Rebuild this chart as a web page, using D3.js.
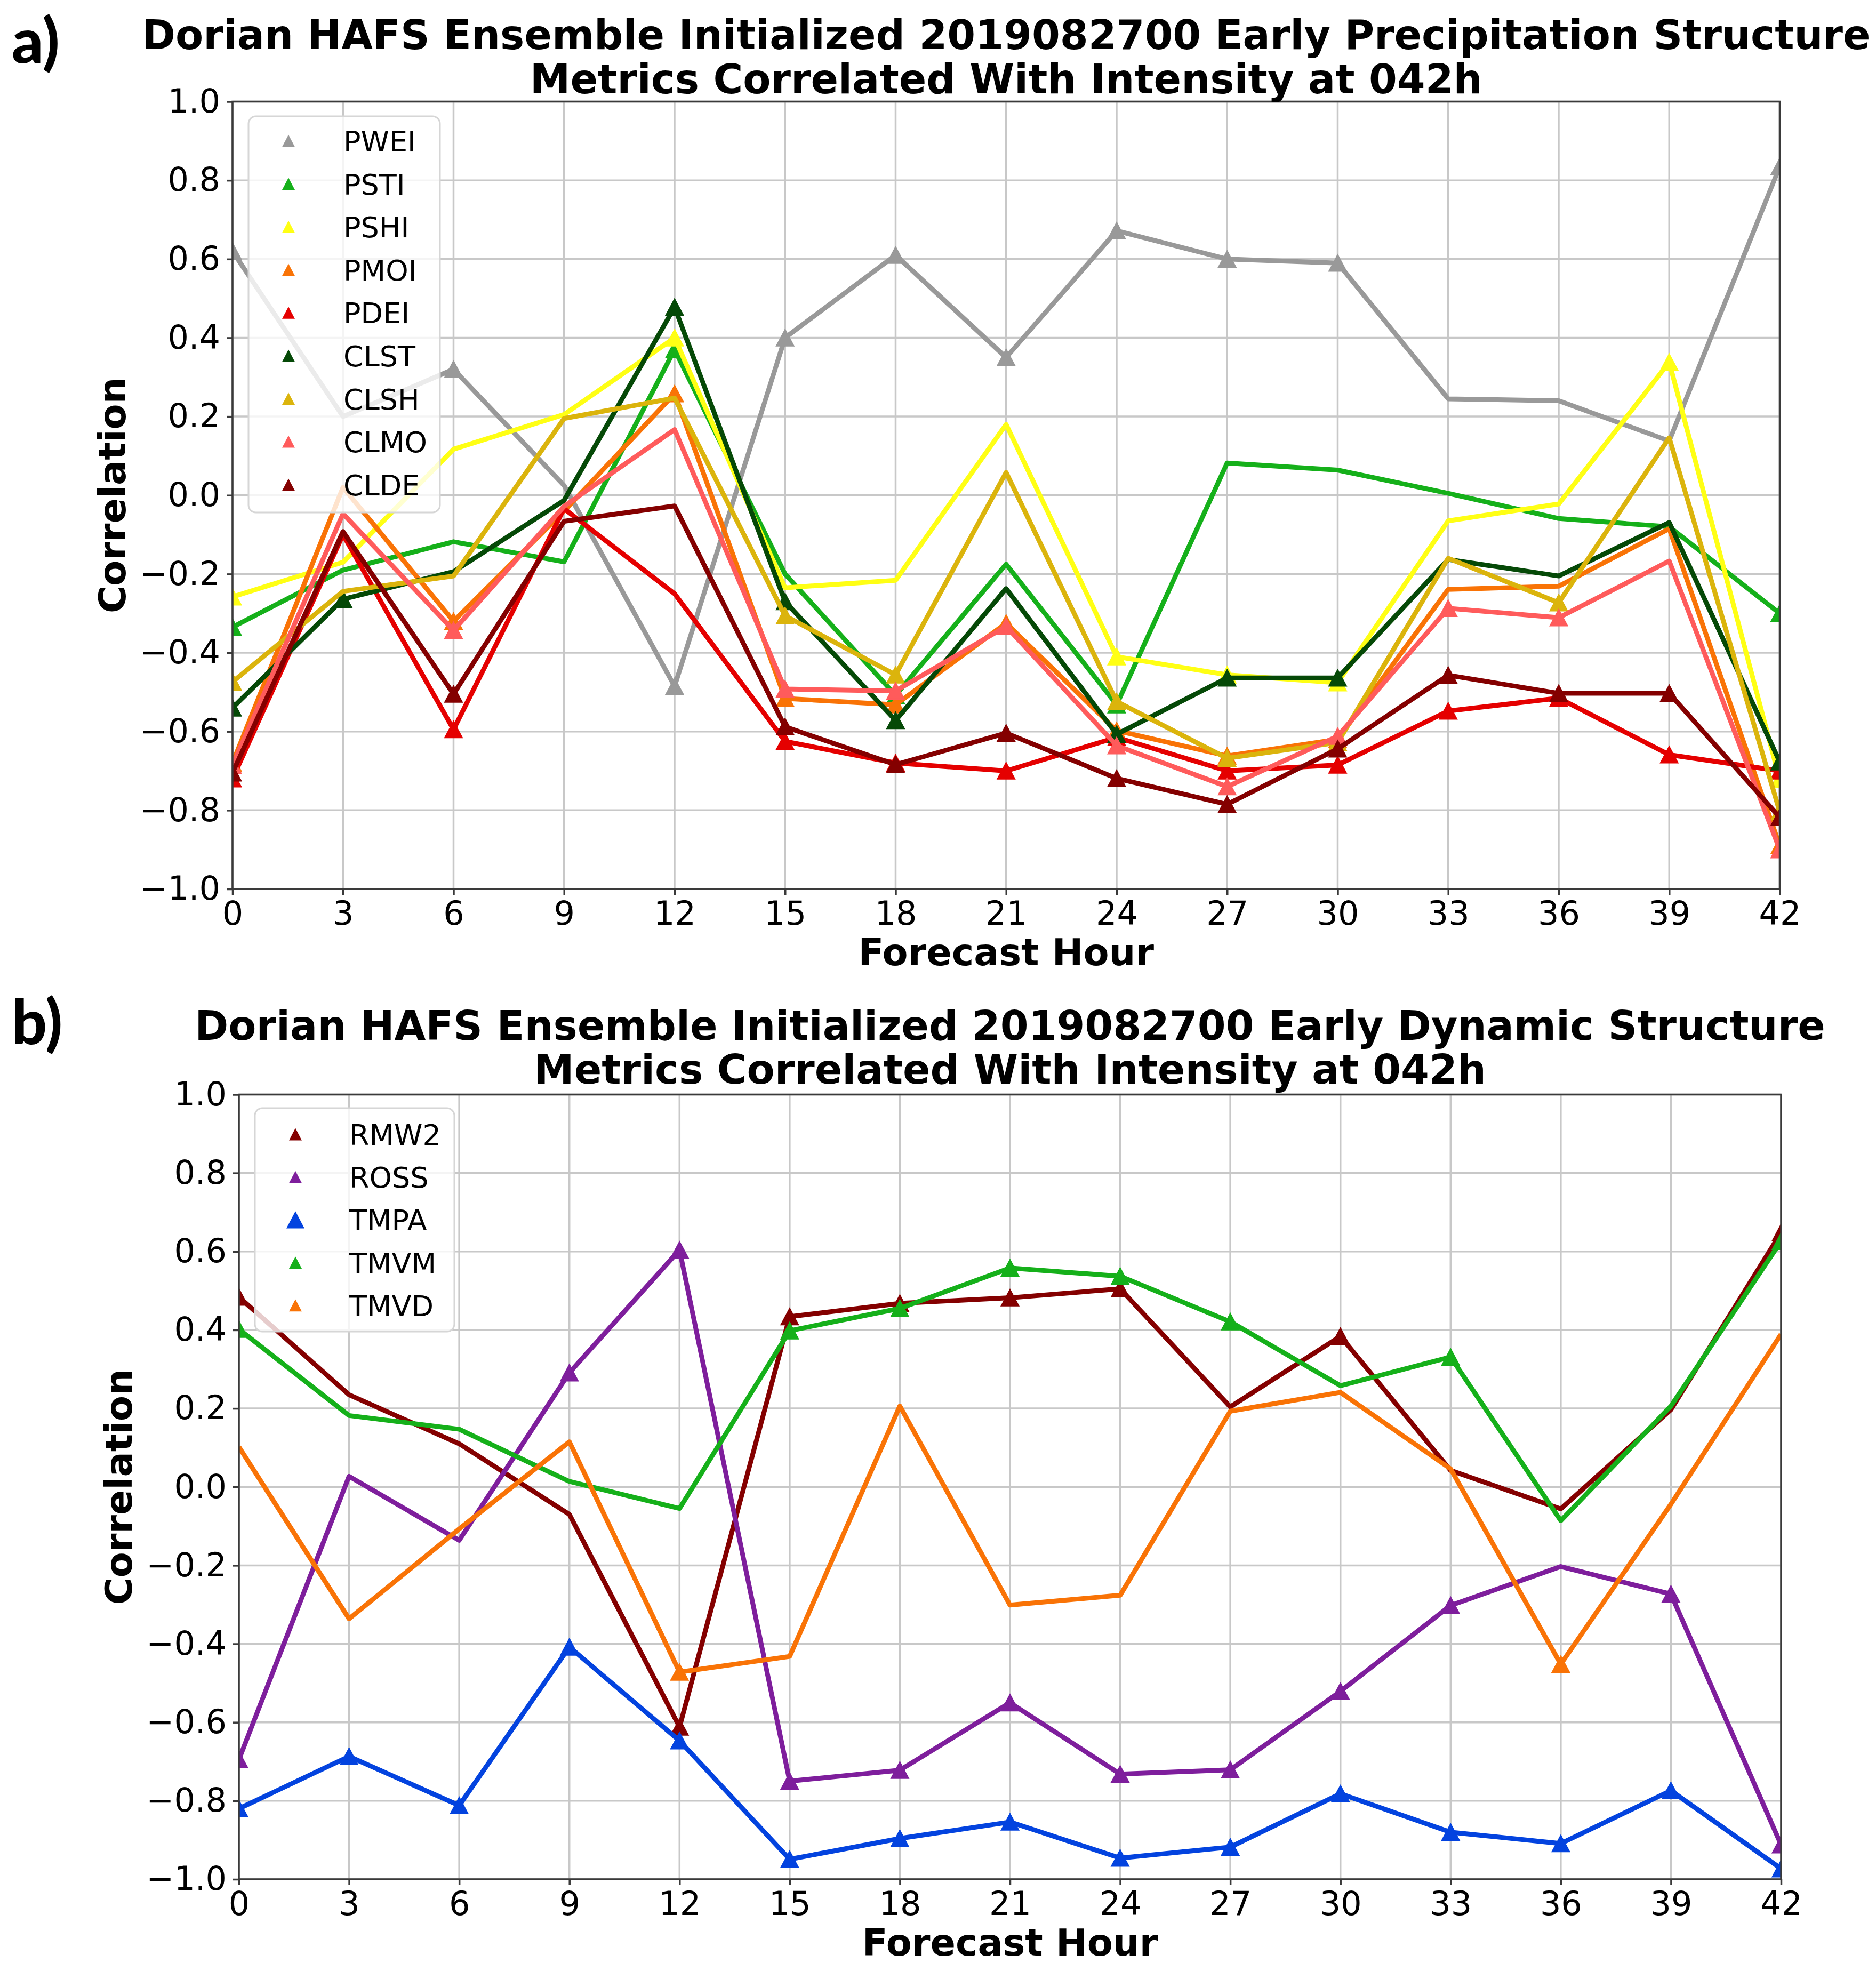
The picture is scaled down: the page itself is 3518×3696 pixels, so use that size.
<!DOCTYPE html>
<html>
<head>
<meta charset="utf-8">
<script src="https://cdnjs.cloudflare.com/ajax/libs/d3/7.8.5/d3.min.js"></script>
<style>
  body { margin: 0; background: #ffffff; }
  svg text { font-family: "DejaVu Sans", sans-serif; }
</style>
</head>
<body>
<svg id="chart" width="3518" height="3696"></svg>
<script>
// ---- data ----
const hours = [0, 3, 6, 9, 12, 15, 18, 21, 24, 27, 30, 33, 36, 39, 42];
const yTicks = [-1.0, -0.8, -0.6, -0.4, -0.2, 0.0, 0.2, 0.4, 0.6, 0.8, 1.0];

// panel a: precipitation structure metrics
const precipNames = ["PWEI", "PSTI", "PSHI", "PMOI", "PDEI", "CLST", "CLSH", "CLMO", "CLDE"];
const pwei = [0.62, 0.20, 0.32, 0.025, -0.485, 0.40, 0.61, 0.35, 0.672, 0.60, 0.59, 0.245, 0.24, 0.138, 0.835];
const psti = [-0.335, -0.19, -0.118, -0.169, 0.37, -0.20, -0.508, -0.175, -0.532, 0.082, 0.064, 0.005, -0.059, -0.08, -0.30];
const pshi = [-0.258, -0.17, 0.117, 0.205, 0.40, -0.235, -0.216, 0.18, -0.41, -0.456, -0.476, -0.065, -0.022, 0.338, -0.722];
const pmoi = [-0.68, 0.02, -0.32, -0.04, 0.258, -0.516, -0.532, -0.325, -0.598, -0.662, -0.62, -0.239, -0.231, -0.085, -0.89];
const pdei = [-0.72, -0.10, -0.595, -0.034, -0.25, -0.625, -0.68, -0.70, -0.615, -0.70, -0.685, -0.548, -0.515, -0.659, -0.70];
const clst = [-0.54, -0.264, -0.194, -0.013, 0.478, -0.27, -0.572, -0.237, -0.607, -0.464, -0.464, -0.163, -0.205, -0.069, -0.677];
const clsh = [-0.474, -0.244, -0.205, 0.195, 0.247, -0.306, -0.456, 0.058, -0.524, -0.668, -0.628, -0.16, -0.273, 0.146, -0.804];
const clmo = [-0.686, -0.047, -0.343, -0.028, 0.167, -0.492, -0.497, -0.333, -0.636, -0.74, -0.612, -0.287, -0.311, -0.167, -0.90];
const clde = [-0.705, -0.092, -0.505, -0.066, -0.027, -0.588, -0.684, -0.604, -0.719, -0.785, -0.644, -0.457, -0.503, -0.503, -0.818];
// hours where a marker (triangle) is drawn
const pweiMark = [0, 6, 12, 15, 18, 21, 24, 27, 30, 42];
const pstiMark = [0, 12, 18, 24, 42];
const pshiMark = [0, 12, 24, 27, 30, 39, 42];
const pmoiMark = [0, 6, 12, 15, 18, 21, 24, 27, 30, 42];
const pdeiMark = [0, 6, 15, 18, 21, 24, 27, 30, 33, 36, 39, 42];
const clstMark = [0, 3, 12, 15, 18, 24, 27, 30, 42];
const clshMark = [0, 15, 18, 24, 27, 30, 36, 42];
const clmoMark = [0, 6, 15, 18, 21, 24, 27, 30, 33, 36, 42];
const cldeMark = [0, 6, 15, 18, 21, 24, 27, 30, 33, 36, 39, 42];

// panel b: dynamic structure metrics
const dynNames = ["RMW2", "ROSS", "TMPA", "TMVM", "TMVD"];
const rmw2 = [0.484, 0.235, 0.110, -0.070, -0.612, 0.434, 0.468, 0.482, 0.505, 0.204, 0.384, 0.042, -0.056, 0.197, 0.648];
const ross = [-0.695, 0.027, -0.136, 0.291, 0.604, -0.750, -0.722, -0.550, -0.732, -0.721, -0.521, -0.302, -0.203, -0.273, -0.912];
const tmpa = [-0.820, -0.687, -0.812, -0.408, -0.647, -0.949, -0.896, -0.854, -0.946, -0.918, -0.782, -0.880, -0.909, -0.774, -0.973];
const tmvm = [0.402, 0.182, 0.147, 0.014, -0.055, 0.398, 0.455, 0.558, 0.537, 0.421, 0.258, 0.331, -0.086, 0.206, 0.626];
const tmvd = [0.102, -0.336, -0.107, 0.115, -0.472, -0.432, 0.206, -0.301, -0.276, 0.193, 0.241, 0.046, -0.452, -0.044, 0.389];
const rmw2Mark = [0, 12, 15, 18, 21, 24, 30, 42];
const rossMark = [0, 9, 12, 15, 18, 21, 24, 27, 30, 33, 39, 42];
const tmpaMark = [0, 3, 6, 9, 12, 15, 18, 21, 24, 27, 30, 33, 36, 39, 42];
const tmvmMark = [0, 15, 18, 21, 24, 27, 33, 42];
const tmvdMark = [12, 36];

// ---- styles ----
const precipColors = ["#999999", "#15b01a", "#ffff14", "#f97306", "#e50000", "#054907", "#dbb40c", "#ff5b5b", "#840000"];
const dynColors = ["#840000", "#7e1e9c", "#0343df", "#15b01a", "#f97306"];

const svg = d3.select("#chart");
svg.append("rect").attr("width", 3518).attr("height", 3696).attr("fill", "#ffffff");

function triangle(cx, cy, w, h) {
  return "M" + cx + "," + (cy - h / 2) + "L" + (cx + w / 2) + "," + (cy + h / 2) +
         "L" + (cx - w / 2) + "," + (cy + h / 2) + "Z";
}

function drawPanel(cfg) {
  const g = svg.append("g");
  const x = d3.scaleLinear().domain([0, 42]).range([cfg.left, cfg.right]);
  const y = d3.scaleLinear().domain([-1, 1]).range([cfg.bottom, cfg.top]);

  // grid
  g.append("g").selectAll("line").data(hours).join("line")
    .attr("x1", d => x(d)).attr("x2", d => x(d))
    .attr("y1", cfg.top).attr("y2", cfg.bottom)
    .attr("stroke", "#c8c8c8").attr("stroke-width", 3.5);
  g.append("g").selectAll("line").data(yTicks).join("line")
    .attr("x1", cfg.left).attr("x2", cfg.right)
    .attr("y1", d => y(d)).attr("y2", d => y(d))
    .attr("stroke", "#c8c8c8").attr("stroke-width", 3.5);

  // series
  const clipId = "clip" + cfg.id;
  svg.append("clipPath").attr("id", clipId).append("rect")
    .attr("x", cfg.left).attr("y", cfg.top)
    .attr("width", cfg.right - cfg.left).attr("height", cfg.bottom - cfg.top);
  const plot = g.append("g").attr("clip-path", "url(#" + clipId + ")");
  const line = d3.line().x((d, i) => x(hours[i])).y(d => y(d));

  cfg.series.forEach(s => {
    plot.append("path").datum(s.values)
      .attr("d", line)
      .attr("fill", "none")
      .attr("stroke", s.color)
      .attr("stroke-width", 9)
      .attr("stroke-linejoin", "round");
    plot.append("g").selectAll("path").data(s.marks).join("path")
      .attr("d", h => triangle(x(h), y(s.values[hours.indexOf(h)]), 32, 30))
      .attr("fill", s.color)
      .attr("stroke", s.color).attr("stroke-width", 2.5);
  });

  // spines
  g.append("rect")
    .attr("x", cfg.left).attr("y", cfg.top)
    .attr("width", cfg.right - cfg.left).attr("height", cfg.bottom - cfg.top)
    .attr("fill", "none").attr("stroke", "#3a3a3a").attr("stroke-width", 3.5);

  // axes
  const yAxis = d3.axisLeft(y).tickValues(yTicks).tickSize(11).tickPadding(12)
    .tickFormat(d => d3.format(".1f")(d).replace("-", "\u2212"));
  const ya = g.append("g").attr("transform", "translate(" + cfg.left + ",0)").call(yAxis);
  const xAxis = d3.axisBottom(x).tickValues(hours).tickSize(11).tickPadding(12)
    .tickFormat(d3.format("d"));
  const xa = g.append("g").attr("transform", "translate(0," + cfg.bottom + ")").call(xAxis);
  [ya, xa].forEach(a => {
    a.select(".domain").remove();
    a.selectAll(".tick line").attr("stroke", "#3a3a3a").attr("stroke-width", 3.5);
    a.selectAll(".tick text").attr("font-size", 62).attr("fill", "#000")
      .attr("font-family", "DejaVu Sans");
  });

  // labels
  g.append("text")
    .attr("x", (cfg.left + cfg.right) / 2).attr("y", cfg.bottom + 143)
    .attr("text-anchor", "middle").attr("font-size", 70).attr("font-weight", "bold")
    .text("Forecast Hour");
  g.append("text")
    .attr("transform", "translate(" + (cfg.left - 201) + "," + ((cfg.top + cfg.bottom) / 2) + ") rotate(-90)")
    .attr("text-anchor", "middle").attr("font-size", 70).attr("font-weight", "bold")
    .text("Correlation");
  cfg.title.forEach((t, i) => {
    g.append("text")
      .attr("x", (cfg.left + cfg.right) / 2).attr("y", cfg.titleY[i])
      .attr("text-anchor", "middle").attr("font-size", 76).attr("font-weight", "bold")
      .text(t);
  });
  g.append("text")
    .attr("x", 22).attr("y", cfg.tagY)
    .attr("font-size", 116).attr("font-weight", 900)
    .style("font-family", "Lato, 'Open Sans', sans-serif")
    .text(cfg.tag);

  // legend
  const L = cfg.legend;
  g.append("rect")
    .attr("x", L.x0).attr("y", L.y0).attr("width", L.x1 - L.x0).attr("height", L.y1 - L.y0)
    .attr("rx", 14).attr("ry", 14)
    .attr("fill", "#ffffff").attr("fill-opacity", 0.8)
    .attr("stroke", "#d6d6d6").attr("stroke-width", 3);
  cfg.series.forEach((s, i) => {
    const cy = L.first + i * L.step;
    const w = s.legendSize || 24;
    g.append("path").attr("d", triangle(L.markX, cy, w, w * 0.95)).attr("fill", s.color);
    g.append("text").attr("x", L.textX).attr("y", cy + 20)
      .attr("font-size", 54).attr("fill", "#000").text(s.name);
  });
}

drawPanel({
  id: "a", tag: "a)", tagY: 118,
  left: 436, right: 3337.5, top: 190.5, bottom: 1667,
  title: ["Dorian HAFS Ensemble Initialized 2019082700 Early Precipitation Structure",
          "Metrics Correlated With Intensity at 042h"],
  titleY: [92, 175],
  legend: { x0: 466, x1: 825, y0: 218, y1: 961, first: 264, step: 80.6, markX: 541, textX: 644 },
  series: [pwei, psti, pshi, pmoi, pdei, clst, clsh, clmo, clde].map((v, i) => ({
    name: precipNames[i], values: v, color: precipColors[i],
    marks: [pweiMark, pstiMark, pshiMark, pmoiMark, pdeiMark, clstMark, clshMark, clmoMark, cldeMark][i]
  }))
});

drawPanel({
  id: "b", tag: "b)", tagY: 1958,
  left: 448, right: 3340, top: 2052.5, bottom: 3524,
  title: ["Dorian HAFS Ensemble Initialized 2019082700 Early Dynamic Structure",
          "Metrics Correlated With Intensity at 042h"],
  titleY: [1950, 2032],
  legend: { x0: 478, x1: 852, y0: 2078, y1: 2497, first: 2127, step: 80.2, markX: 554, textX: 655 },
  series: [rmw2, ross, tmpa, tmvm, tmvd].map((v, i) => ({
    name: dynNames[i], values: v, color: dynColors[i],
    marks: [rmw2Mark, rossMark, tmpaMark, tmvmMark, tmvdMark][i],
    legendSize: i === 2 ? 34 : 24
  }))
});
</script>
</body>
</html>
